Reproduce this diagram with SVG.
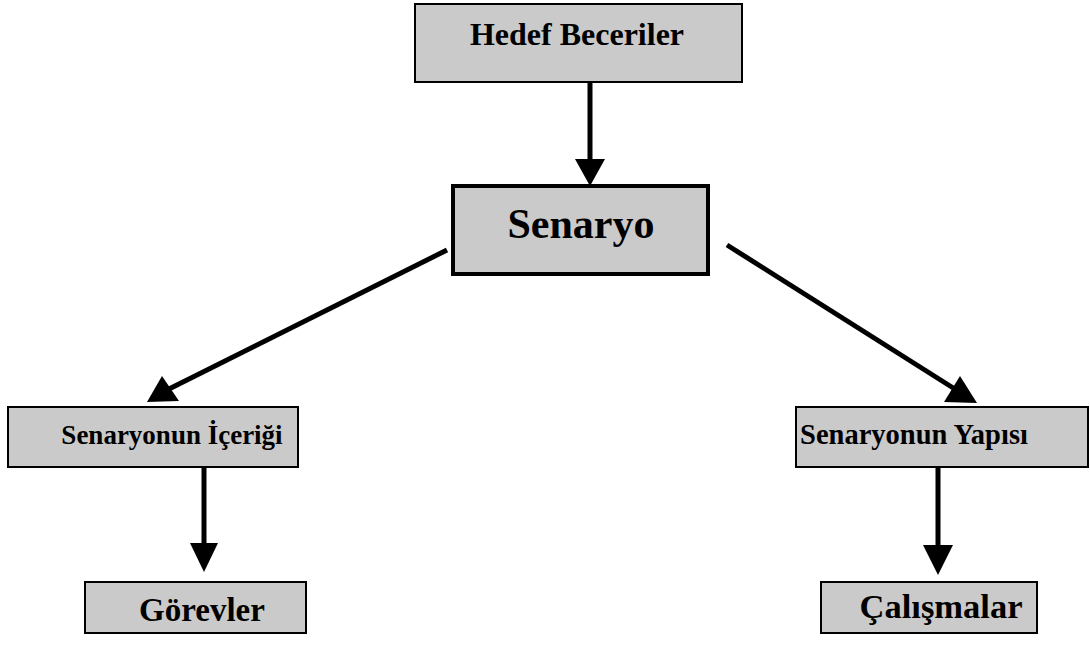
<svg xmlns="http://www.w3.org/2000/svg" width="1090" height="645" viewBox="0 0 1090 645">
  <defs>
    <style>
      .box { fill: #cacaca; stroke: #000; stroke-width: 2; }
      .box.main { stroke-width: 4; }
      .label { font-weight: bold; fill: #000; text-anchor: middle; }
      .edge { stroke: #000; stroke-width: 5; fill: none; }
      .head { fill: #000; }
    </style>
  </defs>
  <rect width="1090" height="645" fill="#fff"/>

  <!-- connectors -->
  <g id="connectors">
    <line class="edge" x1="590" y1="82" x2="590" y2="162"/>
    <polygon class="head" points="575,159 605,159 590,186"/>

    <line class="edge" x1="447" y1="250" x2="165" y2="391"/>
    <polygon class="head" points="147,402 162,376 179,401"/>

    <line class="edge" x1="727" y1="245" x2="958" y2="391"/>
    <polygon class="head" points="977,403 944,402 960,376"/>

    <line class="edge" x1="204" y1="467" x2="204" y2="546"/>
    <polygon class="head" points="190,543 218,543 204,572"/>

    <line class="edge" x1="938" y1="467" x2="938" y2="548"/>
    <polygon class="head" points="923,545 953,545 938,575"/>
  </g>

  <g font-family="'Liberation Serif', 'DejaVu Serif', 'Times New Roman', serif">
    <g id="hedef-beceriler">
      <rect class="box" x="415" y="4" width="327" height="78"/>
      <text class="label" x="577" y="45" font-size="32">Hedef Beceriler</text>
    </g>

    <g id="senaryo">
      <rect class="box main" x="453" y="186" width="255" height="88"/>
      <text class="label" x="581" y="238" font-size="42">Senaryo</text>
    </g>

    <g id="senaryonun-icerigi">
      <rect class="box" x="8" y="407" width="290" height="60"/>
      <text class="label" x="172" y="444" font-size="27">Senaryonun İçeriği</text>
    </g>

    <g id="senaryonun-yapisi">
      <rect class="box" x="796" y="407" width="292" height="60"/>
      <text class="label" x="914" y="444" font-size="28.5">Senaryonun Yapısı</text>
    </g>

    <g id="gorevler">
      <rect class="box" x="85" y="582" width="221" height="51"/>
      <text class="label" x="202" y="621" font-size="33">Görevler</text>
    </g>

    <g id="calismalar">
      <rect class="box" x="821" y="582" width="216" height="51"/>
      <text class="label" x="941" y="618" font-size="34.5">Çalışmalar</text>
    </g>
  </g>
</svg>
